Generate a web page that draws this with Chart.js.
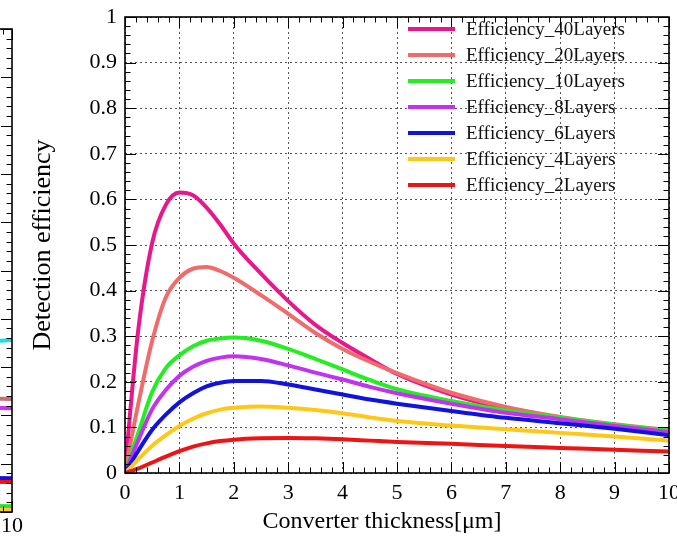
<!DOCTYPE html>
<html>
<head>
<meta charset="utf-8">
<script src="https://cdn.jsdelivr.net/npm/chart.js@4.4.1/dist/chart.umd.min.js"></script>
<style>
    html, body { margin: 0; padding: 0; background: #fff; }
    #wrap { position: relative; width: 677px; height: 537px; overflow: hidden; }
    #sideChart { position: absolute; left: -456px; top: 0; }
    #effChart { position: absolute; left: 0; top: 0; }
</style>
</head>
<body>
<div id="wrap">
    <canvas id="sideChart" width="480" height="537"></canvas>
    <canvas id="effChart" width="677" height="537"></canvas>
</div>
<script>
// converter thickness [um]
const thickness = [0, 0.1, 0.25, 0.5, 0.75, 1, 1.25, 1.5, 1.75, 2, 2.5, 3, 3.5, 4, 4.5, 5, 6, 7, 8, 9, 10];

const eff40 = [0, 0.14, 0.32, 0.505, 0.588, 0.615, 0.609, 0.582, 0.545, 0.503, 0.437, 0.377, 0.325, 0.285, 0.25, 0.217, 0.172, 0.141, 0.120, 0.104, 0.092];
const eff20 = [0, 0.065, 0.155, 0.29, 0.385, 0.428, 0.448, 0.452, 0.443, 0.428, 0.39, 0.349, 0.307, 0.272, 0.244, 0.219, 0.176, 0.145, 0.123, 0.107, 0.094];
const eff10 = [0, 0.037, 0.09, 0.178, 0.23, 0.258, 0.278, 0.29, 0.295, 0.297, 0.29, 0.272, 0.25, 0.227, 0.204, 0.184, 0.158, 0.137, 0.121, 0.106, 0.093];
const eff8 = [0, 0.03, 0.073, 0.14, 0.182, 0.213, 0.233, 0.246, 0.253, 0.256, 0.25, 0.236, 0.22, 0.205, 0.189, 0.175, 0.152, 0.132, 0.118, 0.103, 0.09];
const eff6 = [0, 0.02, 0.05, 0.095, 0.128, 0.155, 0.175, 0.19, 0.198, 0.202, 0.202, 0.194, 0.183, 0.172, 0.161, 0.152, 0.136, 0.121, 0.109, 0.097, 0.083];
const eff4 = [0, 0.012, 0.031, 0.06, 0.083, 0.103, 0.119, 0.131, 0.139, 0.143, 0.146, 0.143, 0.138, 0.131, 0.122, 0.114, 0.104, 0.096, 0.088, 0.08, 0.071];
const eff2 = [0, 0.004, 0.01, 0.023, 0.036, 0.048, 0.058, 0.065, 0.07, 0.073, 0.076, 0.077, 0.076, 0.074, 0.071, 0.068, 0.064, 0.059, 0.055, 0.051, 0.047];

const seriesNames = ['Efficiency_40Layers', 'Efficiency_20Layers', 'Efficiency_10Layers', 'Efficiency_8Layers',
    'Efficiency_6Layers', 'Efficiency_4Layers', 'Efficiency_2Layers'];
const seriesColors = ['#e8178c', '#f06b6b', '#22ee22', '#c233f0', '#1212e0', '#ffc816', '#ee1414'];
const seriesValues = [eff40, eff20, eff10, eff8, eff6, eff4, eff2];

// neighbouring (cut off) plot on the left edge, only its right end shows
const sideX = [9, 10];
const sideValues = [
    [0.35, 0.356], [0.236, 0.234], [0.217, 0.215], [0.071, 0.070], [0.063, 0.062], [0.013, 0.012], [0.005, 0.004]
];
const sideColors = ['#22dddd', '#c47272', '#cc33ee', '#1111dd', '#ee1111', '#33dd33', '#ffcc22'];

const serif = 'Liberation Serif';

// ROOT style frame: box with ticks pointing inwards on every side
const rootFrame = {
    id: 'rootFrame',
    afterDatasetsDraw(chart, args, opts) {
        const { ctx, chartArea: a, scales: { x, y } } = chart;
        ctx.save();
        ctx.strokeStyle = '#000';
        ctx.lineWidth = 1;
        const seg = (x1, y1, x2, y2) => {
            ctx.beginPath(); ctx.moveTo(x1, y1); ctx.lineTo(x2, y2); ctx.stroke();
        };
        const nx = Math.round((x.max - x.min) / opts.xMinor);
        for (let i = 0; i <= nx; i++) {
            const px = Math.round(x.getPixelForValue(x.min + i * opts.xMinor)) + 0.5;
            const len = i % opts.xSub === 0 ? opts.major : opts.minor;
            seg(px, a.bottom, px, a.bottom - len);
            seg(px, a.top, px, a.top + len);
        }
        const ny = Math.round((y.max - y.min) / opts.yMinor);
        for (let i = 0; i <= ny; i++) {
            const py = Math.round(y.getPixelForValue(y.min + i * opts.yMinor)) + 0.5;
            const len = i % opts.ySub === 0 ? opts.major : opts.minor;
            seg(a.left, py, a.left + len, py);
            seg(a.right, py, a.right - len, py);
        }
        ctx.lineWidth = 1.6;
        ctx.strokeRect(a.left, a.top, a.right - a.left, a.bottom - a.top);
        ctx.restore();
    }
};

// legend drawn inside the frame, no box
const rootLegend = {
    id: 'rootLegend',
    afterDraw(chart, args, opts) {
        if (!opts.display) return;
        const ctx = chart.ctx;
        ctx.save();
        ctx.font = '19px "' + serif + '"';
        ctx.textBaseline = 'middle';
        chart.data.datasets.forEach((ds, i) => {
            const yy = opts.top + i * opts.row;
            ctx.strokeStyle = ds.borderColor;
            ctx.lineWidth = 4;
            ctx.beginPath();
            ctx.moveTo(opts.left, yy);
            ctx.lineTo(opts.left + 47, yy);
            ctx.stroke();
            ctx.fillStyle = '#111';
            ctx.fillText(ds.label, opts.left + 58, yy + 1);
        });
        ctx.restore();
    }
};

function makeDatasets(xs, valueLists, colors, names, width) {
    return valueLists.map((vals, i) => ({
        label: names ? names[i] : '',
        data: xs.map((t, k) => ({ x: t, y: vals[k] })),
        borderColor: colors[i],
        backgroundColor: colors[i],
        borderWidth: width,
        pointRadius: 0,
        cubicInterpolationMode: 'monotone',
        order: valueLists.length - i
    }));
}

const plainNumber = (v) => String(Number(v.toFixed(2)));

new Chart(document.getElementById('effChart'), {
    type: 'line',
    data: { datasets: makeDatasets(thickness, seriesValues, seriesColors, seriesNames, 4) },
    options: {
        responsive: false,
        animation: false,
        layout: { padding: { top: 17, right: 8, left: 0, bottom: 0 } },
        plugins: {
            legend: { display: false },
            tooltip: { enabled: false },
            rootFrame: { xMinor: 0.2, xSub: 5, yMinor: 0.02, ySub: 5, major: 11, minor: 5.5 },
            rootLegend: { display: true, left: 408, top: 29, row: 26 }
        },
        scales: {
            x: {
                type: 'linear',
                min: 0,
                max: 10,
                afterFit: (s) => { s.height = 64; s.paddingLeft = 0; s.paddingRight = 0; },
                ticks: { stepSize: 1, color: '#000', padding: 9, maxRotation: 0, callback: plainNumber,
                    font: { family: serif, size: 22, lineHeight: 1 } },
                grid: { color: '#555', lineWidth: 1, drawTicks: false },
                border: { display: false, dash: [2, 3] },
                title: { display: true, text: 'Converter thickness[μm]     ', color: '#000',
                    font: { family: serif, size: 24, lineHeight: 1 }, padding: { top: 0, bottom: 3 } }
            },
            y: {
                min: 0,
                max: 1,
                afterFit: (s) => { s.width = 125; s.paddingTop = 0; s.paddingBottom = 0; },
                ticks: { stepSize: 0.1, color: '#000', padding: 8, callback: plainNumber,
                    font: { family: serif, size: 22, lineHeight: 1 } },
                grid: { color: '#555', lineWidth: 1, drawTicks: false },
                border: { display: false, dash: [2, 3] },
                title: { display: true, text: 'Detection efficiency', color: '#000',
                    font: { family: serif, size: 26, lineHeight: 1 }, padding: { top: 30, bottom: 0 } }
            }
        }
    },
    plugins: [rootFrame, rootLegend]
});

new Chart(document.getElementById('sideChart'), {
    type: 'line',
    data: { datasets: makeDatasets(sideX, sideValues, sideColors, null, 4) },
    options: {
        responsive: false,
        animation: false,
        layout: { padding: { top: 29, right: 12, left: 18, bottom: 0 } },
        plugins: {
            legend: { display: false },
            tooltip: { enabled: false },
            rootFrame: { xMinor: 0.2, xSub: 5, yMinor: 0.02, ySub: 5, major: 11, minor: 5.5 },
            rootLegend: { display: false }
        },
        scales: {
            x: {
                type: 'linear',
                min: 0,
                max: 10,
                afterFit: (s) => { s.height = 25; s.paddingLeft = 0; s.paddingRight = 0; },
                ticks: { stepSize: 1, color: '#000', padding: 3, maxRotation: 0,
                    font: { family: serif, size: 22, lineHeight: 1 } },
                grid: { display: false, drawTicks: false },
                border: { display: false }
            },
            y: { display: false, min: 0, max: 1 }
        }
    },
    plugins: [rootFrame, rootLegend]
});
</script>
</body>
</html>
